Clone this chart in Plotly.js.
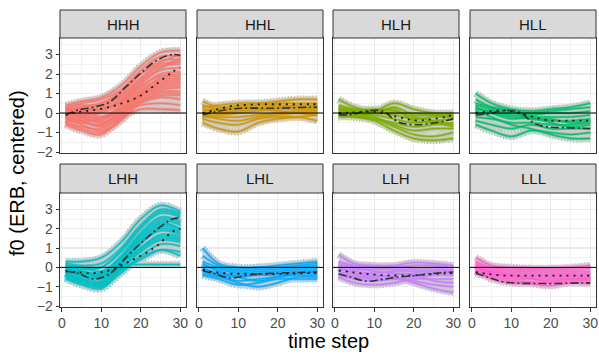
<!DOCTYPE html>
<html><head><meta charset="utf-8">
<script src="https://cdn.plot.ly/plotly-3.0.1.min.js"></script>
<style>html,body{margin:0;padding:0;background:#fff}#chart{width:599px;height:354px}</style>
</head><body><div id="chart"></div>
<script>
const groups = ['HHH','HHL','HLH','HLL','LHH','LHL','LLH','LLL'];
const colors = ['#F8766D','#CD9600','#7CAE00','#00BE67','#00BFC4','#00A9FF','#C77CFF','#FF61CC'];
const timeSteps = [1,5,10,15,20,25,30];
const meanSteps = [1,4,8,12,16,20,24,28,30];
const xTicks = [0,10,20,30];
const yTicks = [-2,-1,0,1,2,3];

const HHH_tracks = [
 [0.4,0.6,0.8,1.4,2.4,3.1,3.2],[0.3,0.5,0.7,1.2,2.2,2.9,2.9],[0.2,0.3,0.5,1.0,2.0,2.7,2.7],
 [0.1,0.2,0.3,0.8,1.7,2.4,2.5],[0.0,0.1,0.2,0.6,1.5,2.2,2.3],[-0.1,-0.1,0.0,0.5,1.3,2.0,2.1],
 [-0.2,-0.2,-0.2,0.3,1.1,1.8,1.9],[-0.3,-0.3,-0.4,0.2,1.0,1.6,1.7],[-0.4,-0.5,-0.6,0.0,0.9,1.4,1.5],
 [-0.5,-0.7,-0.8,-0.1,0.8,1.2,1.3],[-0.6,-0.9,-1.1,-0.2,0.7,1.1,1.1],[0.2,0.1,-0.2,0.1,0.6,0.9,0.9],
 [-0.3,-0.6,-0.9,-0.3,0.5,0.8,0.7],[0.0,-0.2,-0.5,0.0,0.4,0.5,0.4],[-0.2,-0.4,-0.7,-0.2,0.2,0.2,0.15],
 [0.1,0.3,0.5,1.1,2.0,2.6,3.0],[-0.1,0.0,0.1,0.7,1.6,2.3,2.8],
 [0.3,0.4,0.4,0.9,1.8,2.5,2.6],[-0.4,-0.4,-0.3,0.4,1.2,1.7,1.8],[0.0,-0.1,-0.3,0.2,0.9,1.3,1.4],
 [-0.5,-0.8,-1.0,-0.4,0.6,1.0,1.0],[0.2,0.2,0.2,0.6,1.4,1.9,2.0],[-0.3,-0.4,-0.6,0.1,1.0,1.5,1.6]];
const HHL_tracks = [
 [0.6,0.3,0.4,0.5,0.6,0.7,0.7],[0.4,0.2,0.3,0.4,0.5,0.5,0.5],[0.2,0.1,0.2,0.3,0.35,0.4,0.4],
 [0.0,0.0,0.1,0.2,0.25,0.3,0.3],[-0.1,-0.1,0.0,0.1,0.2,0.2,0.2],[-0.2,-0.2,-0.2,-0.1,0.0,0.1,0.1],
 [-0.5,-0.8,-0.95,-0.5,-0.3,-0.2,-0.1],[-0.3,-0.5,-0.6,-0.3,-0.2,-0.2,-0.4],[0.1,0.2,0.3,0.2,0.1,0.0,-0.1],
 [-0.1,-0.3,-0.4,-0.2,-0.1,0.0,0.05],[0.3,0.4,0.5,0.5,0.4,0.3,0.2]];
const HLH_tracks = [
 [0.7,0.3,0.1,0.0,0.0,-0.1,-0.1],[0.4,0.2,0.1,0.5,0.2,0.0,0.0],[0.2,0.1,0.0,0.3,-0.1,-0.1,-0.2],
 [0.0,0.0,0.0,-0.1,-0.3,-0.2,-0.2],[-0.1,-0.1,-0.1,-0.3,-0.5,-0.4,-0.3],[-0.2,-0.2,-0.3,-0.5,-0.7,-0.6,-0.5],
 [0.1,0.0,-0.2,-0.6,-0.9,-0.8,-0.8],[0.0,-0.1,-0.3,-0.7,-1.1,-1.2,-1.0],[-0.1,-0.2,-0.4,-0.9,-1.3,-1.4,-1.3],
 [0.2,0.1,0.2,0.1,-0.2,-0.4,-0.6],[0.3,0.15,0.05,0.2,-0.4,-0.5,-0.7]];
const HLL_tracks = [
 [1.0,0.5,0.2,0.1,0.2,0.3,0.5],[0.7,0.3,0.1,0.0,0.1,0.2,0.3],[0.4,0.2,0.0,-0.1,0.0,0.0,0.1],
 [0.2,0.1,-0.1,-0.2,-0.2,-0.2,-0.1],[0.0,0.0,-0.2,-0.3,-0.4,-0.4,-0.3],[-0.2,-0.3,-0.5,-0.5,-0.6,-0.6,-0.5],
 [-0.4,-0.6,-0.8,-0.6,-0.8,-0.8,-0.8],[-0.6,-0.9,-1.2,-0.9,-1.0,-1.1,-1.0],[0.1,-0.2,-0.6,-0.8,-1.1,-1.3,-1.3],
 [0.3,0.0,-0.3,-0.2,-0.5,-0.7,-0.6],[0.5,0.3,0.1,-0.3,-0.3,-0.5,-0.4]];
const LHH_tracks = [
 [0.3,0.3,0.5,1.3,2.5,3.2,2.9],[0.2,0.1,0.2,1.0,2.2,3.0,2.8],[0.0,-0.1,0.0,0.8,2.0,2.8,2.6],
 [-0.1,-0.3,-0.3,0.6,1.8,2.6,2.4],[-0.2,-0.4,-0.5,0.4,1.6,2.4,2.2],[-0.3,-0.5,-0.7,0.3,1.4,2.2,2.0],
 [-0.4,-0.6,-0.9,0.1,1.2,2.0,1.8],[-0.5,-0.8,-1.0,0.0,1.0,1.7,1.6],[-0.6,-0.9,-1.1,-0.1,0.8,1.4,1.3],
 [-0.3,-0.7,-0.8,-0.2,0.6,1.2,1.1],[-0.2,-0.4,-0.6,-0.1,0.4,0.9,0.8],[-0.1,-0.2,-0.3,0.1,0.15,0.15,0.15],
 [0.1,0.0,-0.2,0.5,1.5,2.3,2.0],[0.0,-0.3,-0.5,0.2,1.0,1.6,1.5],[-0.4,-0.7,-1.0,-0.3,0.5,0.9,0.6],
 [0.1,0.0,0.0,0.9,2.1,2.9,2.7],[-0.2,-0.3,-0.4,0.5,1.7,2.5,2.3],[-0.4,-0.6,-0.8,0.2,1.3,1.9,1.7],
 [-0.5,-0.8,-0.9,-0.1,0.9,1.5,1.4],[0.0,-0.2,-0.4,0.3,1.3,2.1,1.9]];
const LHL_tracks = [
 [1.0,0.2,0.0,0.0,0.1,0.2,0.3],[0.6,0.1,-0.1,0.0,0.0,0.1,0.2],[0.3,0.0,-0.2,-0.1,-0.1,0.0,0.1],
 [0.1,-0.1,-0.3,-0.2,-0.2,-0.1,0.0],[-0.1,-0.3,-0.4,-0.3,-0.3,-0.2,-0.1],[-0.2,-0.4,-0.5,-0.4,-0.4,-0.3,-0.3],
 [-0.3,-0.5,-0.7,-0.6,-0.5,-0.4,-0.4],[0.0,-0.4,-0.8,-1.0,-0.8,-0.5,-0.5],[-0.4,-0.6,-0.9,-0.8,-0.6,-0.6,-0.6],
 [0.2,-0.2,-0.5,-0.7,-0.5,-0.3,-0.2]];
const LLH_tracks = [
 [0.65,0.2,0.1,0.1,0.25,0.2,0.1],[0.3,0.1,0.0,0.0,0.1,0.1,0.0],[0.1,-0.1,-0.1,-0.1,-0.1,-0.1,-0.1],
 [-0.1,-0.2,-0.3,-0.2,-0.2,-0.2,-0.2],[-0.2,-0.4,-0.5,-0.4,-0.3,-0.3,-0.3],[-0.4,-0.6,-0.7,-0.6,-0.5,-0.4,-0.4],
 [-0.5,-0.8,-0.9,-0.8,-0.6,-0.6,-0.6],[-0.3,-0.5,-0.6,-0.6,-0.7,-0.9,-1.0],[0.0,-0.3,-0.4,-0.5,-0.8,-1.1,-1.3],
 [0.2,0.0,-0.2,-0.3,-0.4,-0.7,-0.8]];
const LLL_tracks = [
 [0.5,0.1,0.0,-0.05,-0.05,0.0,0.1],[0.3,0.0,-0.1,-0.1,-0.1,-0.1,-0.05],[0.2,-0.1,-0.2,-0.2,-0.2,-0.2,-0.2],
 [0.1,-0.2,-0.3,-0.3,-0.3,-0.3,-0.3],[0.0,-0.3,-0.4,-0.4,-0.4,-0.4,-0.4],[-0.1,-0.3,-0.5,-0.5,-0.5,-0.5,-0.5],
 [-0.2,-0.4,-0.6,-0.6,-0.6,-0.6,-0.6],[-0.3,-0.5,-0.7,-0.75,-0.8,-0.7,-0.7],[-0.2,-0.6,-0.8,-0.85,-0.95,-0.8,-0.85],
 [0.0,-0.2,-0.4,-0.6,-0.7,-0.6,-0.55]];

const HHH_mean = [-0.1,0.15,0.3,0.55,1.3,2.05,2.7,3.0,2.95];
const HHH_dots = [-0.1,0.05,0.15,0.3,0.55,0.9,1.5,2.1,2.35];
const HHL_mean = [-0.08,0.05,0.2,0.25,0.25,0.25,0.27,0.3,0.3];
const HHL_dots = [0.0,0.15,0.35,0.42,0.45,0.45,0.45,0.45,0.45];
const HLH_mean = [-0.08,-0.08,0.1,0.1,-0.45,-0.6,-0.55,-0.4,-0.3];
const HLH_dots = [0.0,0.02,0.08,0.0,-0.2,-0.37,-0.33,-0.2,-0.08];
const HLL_mean = [-0.1,-0.05,0.12,0.05,-0.55,-0.73,-0.75,-0.78,-0.8];
const HLL_dots = [0.0,0.08,0.14,0.0,-0.22,-0.39,-0.39,-0.39,-0.39];
const LHH_mean = [-0.2,-0.3,-0.6,-0.35,0.45,1.25,1.95,2.5,2.55];
const LHH_dots = [-0.2,-0.25,-0.3,-0.15,0.2,0.6,1.1,1.85,2.0];
const LHL_mean = [-0.17,-0.33,-0.55,-0.42,-0.33,-0.3,-0.27,-0.25,-0.24];
const LHL_dots = [-0.12,-0.25,-0.32,-0.33,-0.34,-0.34,-0.32,-0.3,-0.3];
const LLH_mean = [-0.34,-0.5,-0.72,-0.62,-0.5,-0.43,-0.33,-0.26,-0.24];
const LLH_dots = [-0.17,-0.24,-0.34,-0.4,-0.42,-0.41,-0.36,-0.31,-0.3];
const LLL_mean = [-0.3,-0.5,-0.75,-0.82,-0.83,-0.84,-0.82,-0.8,-0.8];
const LLL_dots = [-0.24,-0.34,-0.42,-0.43,-0.43,-0.43,-0.43,-0.43,-0.43];

const tracks = [HHH_tracks,HHL_tracks,HLH_tracks,HLL_tracks,LHH_tracks,LHL_tracks,LLH_tracks,LLL_tracks];
const means = [HHH_mean,HHL_mean,HLH_mean,HLL_mean,LHH_mean,LHL_mean,LLH_mean,LLL_mean];
const dots = [HHH_dots,HHL_dots,HLH_dots,HLL_dots,LHH_dots,LHL_dots,LLH_dots,LLL_dots];

const W = 599, H = 354;
const colsPx = [[60,186],[197,323],[333,459],[470,596]];
const rowsPx = [[38,153],[193,307]];
const stripsPx = [[10,38],[164,193]];
const FONT = 'Liberation Sans, Arial, sans-serif';

const traces = [];
const layout = {
  width: W, height: H, margin: {l:0,r:0,t:0,b:0},
  paper_bgcolor: '#ffffff', plot_bgcolor: '#ffffff',
  showlegend: false, font: {family: FONT, color: '#4D4D4D'},
  shapes: [], annotations: []
};

groups.forEach((g, i) => {
  const r = Math.floor(i/4), c = i % 4;
  const s = i === 0 ? '' : String(i+1);
  const xa = 'x'+s, ya = 'y'+s;
  const base = {xaxis: xa, yaxis: ya, mode: 'lines', hoverinfo: 'skip', showlegend: false};
  tracks[i].forEach(tr => traces.push(Object.assign({}, base, {x: timeSteps, y: tr,
    line: {color: colors[i], width: 7.5, shape: 'spline', dash: '1px,2px'}, opacity: 0.8})));
  tracks[i].forEach(tr => traces.push(Object.assign({}, base, {x: timeSteps, y: tr,
    line: {color: '#CCCCCC', width: 6, shape: 'spline'}})));
  tracks[i].forEach(tr => traces.push(Object.assign({}, base, {x: timeSteps, y: tr,
    line: {color: colors[i], width: 2.6, shape: 'spline'}, opacity: 0.55})));
  tracks[i].forEach(tr => traces.push(Object.assign({}, base, {x: timeSteps, y: tr,
    line: {color: colors[i], width: 1, shape: 'spline'}})));
  traces.push(Object.assign({}, base, {x: meanSteps, y: dots[i],
    line: {color: '#1A1A1A', width: 1.8, shape: 'spline', dash: '2px,5px'}}));
  traces.push(Object.assign({}, base, {x: meanSteps, y: means[i],
    line: {color: '#333333', width: 1.6, shape: 'spline', dash: '8px,3px,2px,3px'}}));

  const axCommon = {showline: true, mirror: true, linecolor: '#333333', linewidth: 1,
    showgrid: true, gridcolor: '#EBEBEB', gridwidth: 1.3, zeroline: false,
    tickfont: {family: FONT, size: 14, color: '#4D4D4D'}, ticklen: 3.5, tickcolor: '#333333', tickwidth: 1,
    fixedrange: true};
  layout['xaxis'+s] = Object.assign({}, axCommon, {
    domain: [colsPx[c][0]/W, colsPx[c][1]/W], anchor: ya, range: [-0.45, 31.45],
    tickmode: 'array', tickvals: xTicks, ticktext: xTicks.map(String),
    showticklabels: r === 1, ticks: r === 1 ? 'outside' : '',
    minor: {dtick: 5, tick0: 0, showgrid: true, gridcolor: '#EBEBEB', gridwidth: 0.7}});
  layout['yaxis'+s] = Object.assign({}, axCommon, {
    domain: [1 - rowsPx[r][1]/H, 1 - rowsPx[r][0]/H], anchor: xa, range: [-2.05, 3.85],
    tickmode: 'array', tickvals: yTicks, ticktext: yTicks.map(v => v < 0 ? '\u2212' + Math.abs(v) : String(v)),
    showticklabels: c === 0, ticks: c === 0 ? 'outside' : '',
    minor: {dtick: 0.5, tick0: 0, showgrid: true, gridcolor: '#EBEBEB', gridwidth: 0.7}});

  layout.shapes.push({type: 'line', xref: xa + ' domain', yref: ya, x0: 0, x1: 1, y0: 0, y1: 0,
    line: {color: '#000000', width: 1}});
  layout.shapes.push({type: 'rect', xref: 'paper', yref: 'paper',
    x0: colsPx[c][0]/W, x1: colsPx[c][1]/W, y0: 1 - stripsPx[r][1]/H, y1: 1 - stripsPx[r][0]/H,
    fillcolor: '#D9D9D9', line: {color: '#333333', width: 1}});
  layout.annotations.push({xref: 'paper', yref: 'paper',
    x: (colsPx[c][0]+colsPx[c][1])/2/W, y: 1 - (stripsPx[r][0]+stripsPx[r][1])/2/H,
    text: g, showarrow: false, xanchor: 'center', yanchor: 'middle',
    font: {family: FONT, size: 15, color: '#1A1A1A'}});
});

layout.annotations.push({xref: 'paper', yref: 'paper', x: 328/W, y: 1 - 341/H, text: 'time step',
  showarrow: false, xanchor: 'center', yanchor: 'middle', font: {family: FONT, size: 20, color: '#000000'}});
layout.annotations.push({xref: 'paper', yref: 'paper', x: 17/W, y: 1 - 173/H, text: 'f0 (ERB, centered)',
  showarrow: false, textangle: -90, xanchor: 'center', yanchor: 'middle', font: {family: FONT, size: 20, color: '#000000'}});

Plotly.newPlot('chart', traces, layout, {staticPlot: true, displayModeBar: false});
</script></body></html>
